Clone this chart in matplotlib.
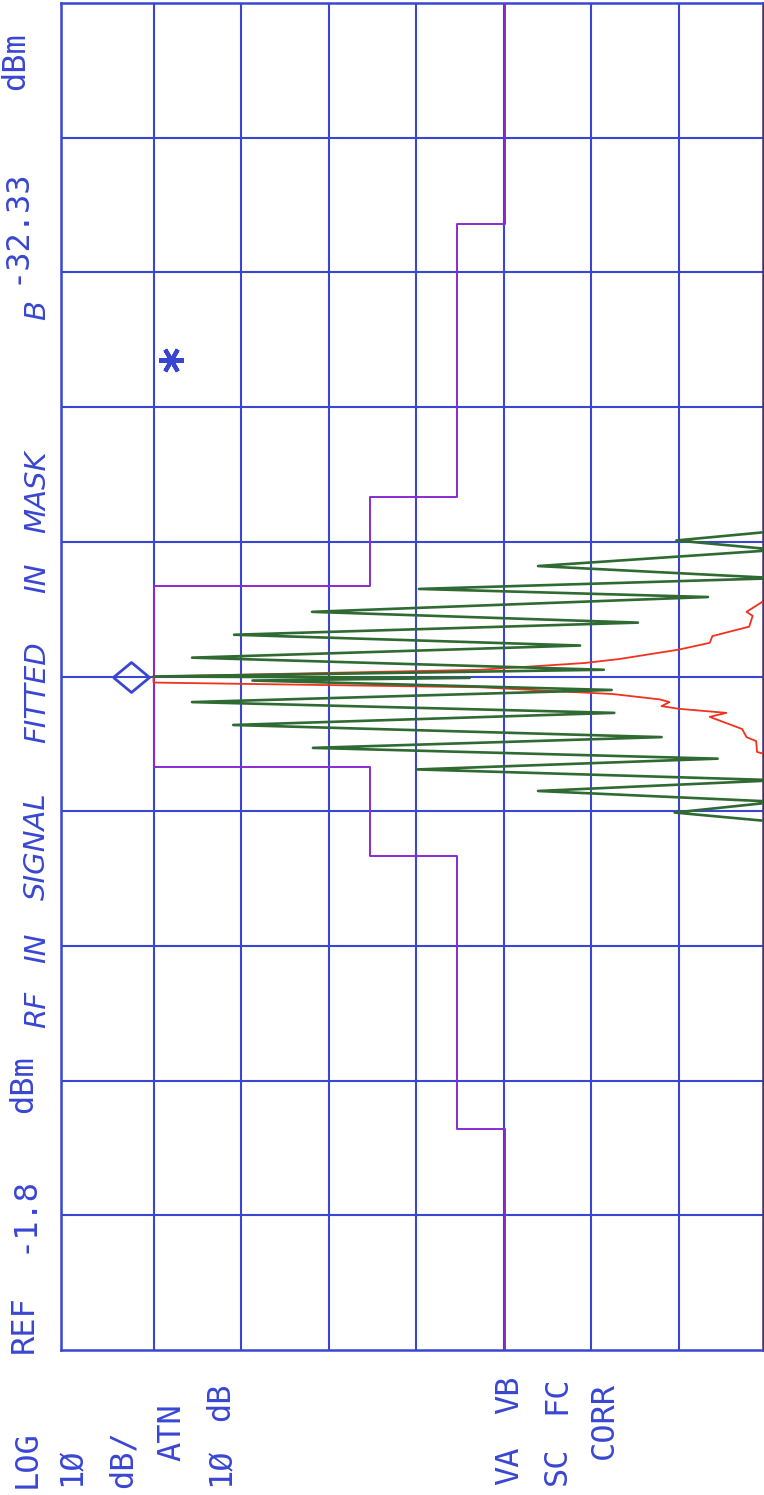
import numpy as np
import matplotlib.pyplot as plt

# spectrum analyser screen (plot is printed rotated: frequency runs up the page)
ref_level = -1.8      # dBm
db_per_div = 10
n_amp_div = 8         # divisions visible across the page
n_freq_div = 10
amp_lim = (-1.24, -81.38)   # visible part of the amplitude axis

# limit mask: frequency edges (div from centre) and levels (dBm)
mask_edges = [3.36, 1.33, 0.67]
mask_levels = [-51.9, -46.5, -36.5, -11.8]

# modulated signal trace (green), turning points
fm_freq = [1.08, 1.01, 0.94, 0.82, 0.73, 0.65, 0.59, 0.48, 0.40, 0.31, 0.23, 0.14,
           0.05, 0.0, -0.01, -0.03, -0.10, -0.19, -0.27, -0.36, -0.45, -0.53,
           -0.61, -0.69, -0.77, -0.85, -0.93, -1.01, -1.08]
fm_level = [-83.0, -71.5, -83.0, -55.7, -83.0, -42.1, -75.1, -29.9, -67.1, -21.0,
            -60.5, -16.2, -63.2, -11.8, -47.9, -23.1, -64.1, -16.2, -64.4, -20.9,
            -69.8, -30.0, -76.2, -41.9, -83.0, -55.7, -83.0, -71.3, -83.0]

# unmodulated carrier trace (red)
cw_freq = [0.70, 0.55, 0.48, 0.45, 0.37, 0.30, 0.25, 0.20, 0.13, 0.10, 0.05, 0.0,
           -0.045, -0.08, -0.13, -0.17, -0.19, -0.22, -0.24, -0.27, -0.30, -0.39,
           -0.45, -0.48, -0.56, -0.62]
cw_level = [-84.0, -81.2, -79.5, -80.2, -79.8, -75.6, -75.3, -71.8, -65.0, -61.0,
            -49.1, -11.8, -11.8, -49.1, -64.2, -69.6, -70.7, -69.8, -71.8, -77.2,
            -75.3, -79.0, -79.5, -80.6, -80.7, -84.0]

marker_freq, marker_level = 0.0, -9.2
star_freq, star_level = 2.35, -13.8

blue = '#3846d2'
purple = '#8a2ad0'
green = '#2f6a33'
red = '#f0321e'

W, H = 764, 1495
fig = plt.figure(figsize=(W / 100, H / 100), dpi=100)
ax = fig.add_axes([61 / W, (H - 1350) / H, (763 - 61) / W, (1350 - 3) / H])

# grid
ax.set_xlim(*amp_lim)
ax.set_ylim(-n_freq_div / 2, n_freq_div / 2)
ax.set_xticks(ref_level - db_per_div * np.arange(1, n_amp_div))
ax.set_yticks(np.arange(-4, 5))
ax.grid(True, color=blue, lw=1.5)
ax.tick_params(length=0, labelbottom=False, labelleft=False)
for s in ax.spines.values():
    s.set_color(blue)
    s.set_linewidth(1.8)
ax.spines['right'].set_color('#4a3068')

# mask as a symmetric staircase
e0, e1, e2 = mask_edges
l0, l1, l2, l3 = mask_levels
mf = [5, e0, e0, e1, e1, e2, e2, -e2, -e2, -e1, -e1, -e0, -e0, -5]
ml = [l0, l0, l1, l1, l2, l2, l3, l3, l2, l2, l1, l1, l0, l0]
ax.plot(ml, mf, color=purple, lw=1.4, zorder=3)

ax.plot(cw_level, cw_freq, color=red, lw=1.3, zorder=4)
ax.plot(fm_level, fm_freq, color=green, lw=1.9, zorder=5)

diamond = [(-1, 0), (0, 0.83), (1, 0), (0, -0.83), (-1, 0)]
ax.plot(marker_level, marker_freq, marker=diamond, ms=26, mfc='none', mec=blue,
        mew=2, zorder=6, clip_on=False)
ax.plot(star_level, star_freq, marker=(6, 2, 90), ms=18, mew=3, color=blue, zorder=6)


def label(px, py, s, size=23, **kw):
    fig.text(px / W, 1 - py / H, s, rotation=90, rotation_mode='anchor',
             ha='left', va='center', color=blue, fontsize=size, **kw)


mono = dict(family='DejaVu Sans Mono')
# header line
label(24, 1353, 'REF', **mono)
label(24, 1253, '-1.8', **mono)
label(24, 1113, 'dBm', **mono)
label(16, 284, '-32.33', **mono)
label(16, 90, 'dBm', **mono)

# handwritten note
hand = dict(family='DejaVu Sans', style='italic', size=21, fontweight='light')
for py, w in [(1028, 'RF'), (963, 'IN'), (900, 'SIGNAL'), (743, 'FITTED'),
              (593, 'IN'), (533, 'MASK'), (320, 'B')]:
    label(37, py, w, **hand)

# settings block under the screen
for px, py, w in [(27, 1488, 'LOG'), (72, 1486, '1Ø'), (123, 1488, 'dB/'),
                  (172, 1461, 'ATN'), (221, 1486, '1Ø'), (221, 1421, 'dB'),
                  (510, 1485, 'VA'), (510, 1414, 'VB'),
                  (557, 1485, 'SC'), (557, 1414, 'FC'),
                  (604, 1459, 'CORR')]:
    label(px, py, w, **mono)

fig.savefig('out.png', dpi=100)
